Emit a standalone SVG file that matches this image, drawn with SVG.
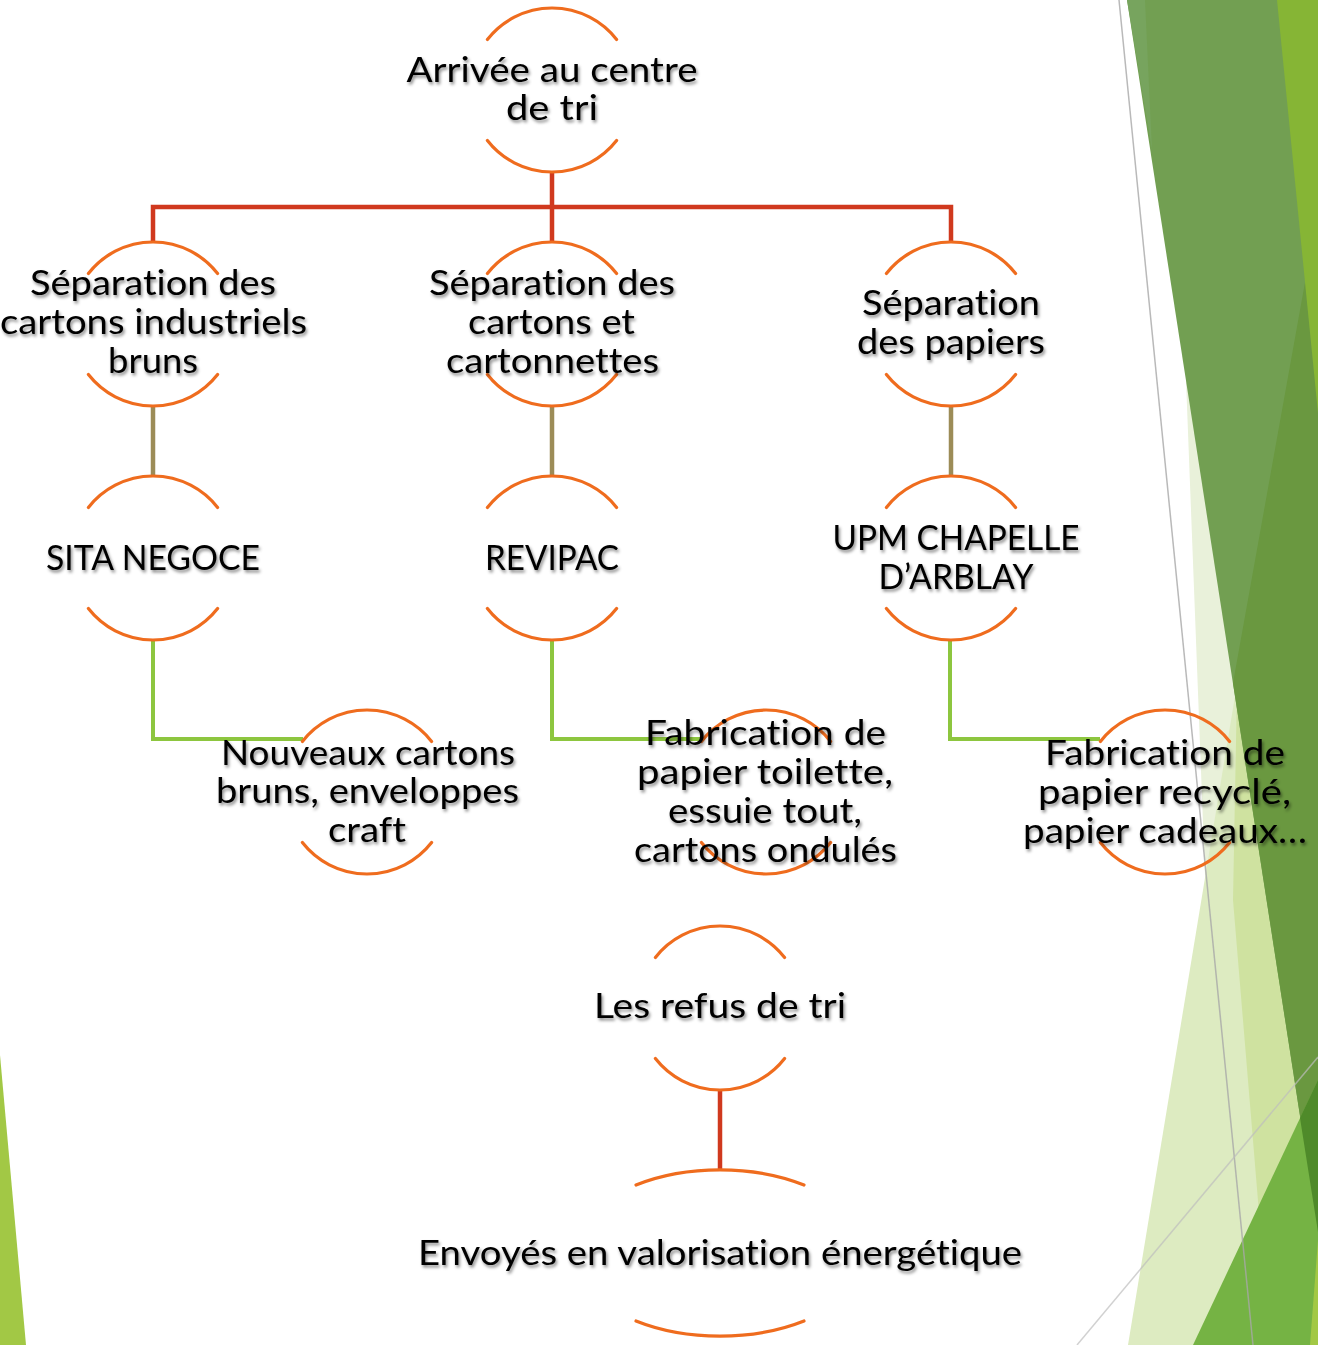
<svg xmlns="http://www.w3.org/2000/svg" xmlns:xlink="http://www.w3.org/1999/xlink" width="1318" height="1345" viewBox="0 0 1318 1345">
<style>
.t{font-family:"Lato","Liberation Sans",sans-serif;font-size:35px;fill:#000;text-anchor:middle;filter:url(#sh);font-variant-ligatures:none;font-feature-settings:"liga" 0,"clig" 0,"dlig" 0}
.arc{fill:none;stroke:#EF6C1E;stroke-width:3.2;stroke-linecap:round}
.red{fill:none;stroke:#D0391E;stroke-width:4.5}
.olive{fill:none;stroke:#9C8C57;stroke-width:4.5}
.green{fill:none;stroke:#8DC63F;stroke-width:4}
</style>
<defs>
<filter id="sh" x="-10%" y="-30%" width="120%" height="170%">
<feDropShadow dx="1.5" dy="2.5" stdDeviation="1.8" flood-color="#000" flood-opacity="0.45"/>
</filter>
<path id="ring" class="arc" d="M-64.6,-50.5 A82,82 0 0 1 64.6,-50.5 M-64.6,50.5 A82,82 0 0 0 64.6,50.5"/>
<path id="oval" class="arc" d="M-84,-68 A146,83 0 0 1 84,-68 M-84,68 A146,83 0 0 0 84,68"/>
</defs>
<rect width="1318" height="1345" fill="#fff"/>
<g id="background">
<polygon points="0,1055 26,1345 0,1345" fill="#A2C845"/>
<polygon points="1186,380 1205,875 1318,875 1318,380" fill="#E9F1DA"/>
<polygon points="1128,1345 1236,690 1318,690 1318,1345" fill="#DDEBC1"/>
<polygon points="1237,690 1233,900 1270,1345 1318,1345 1318,690" fill="#CFE2A0"/>
<polygon points="1127,0 1318,0 1318,1232" fill="#729F52"/>
<polygon points="1127,0 1145,0 1152,150" fill="#77A45E"/>
<polygon points="1318,210 1233,683 1318,1232" fill="#6A9840"/>
<polygon points="1277,0 1318,0 1318,413" fill="#86B535"/>
<polygon points="1318,1080 1193,1345 1318,1345" fill="#75B344"/>
<polygon points="1318,1080 1300,1118 1318,1232" fill="#4F8A2A"/>
<polygon points="1318,1240 1310,1345 1318,1345" fill="#A2C845"/>
<line x1="1119" y1="0" x2="1253" y2="1345" stroke="#A8A8A8" stroke-opacity="0.8" stroke-width="1.5"/>
<line x1="1077" y1="1345" x2="1318" y2="1057" stroke="#BDBDBD" stroke-opacity="0.7" stroke-width="1.5"/>
</g>
<g id="connectors">
<path class="red" d="M153,242 V207 H951 V242 M552,172 V242"/>
<path class="olive" d="M153,406 V476 M552,406 V476 M951,406 V476"/>
<path class="green" d="M153,640 V739 H303 M552,640 V739 H701 M950,640 V739 H1100"/>
<path class="red" d="M720,1090 V1170"/>
</g>
<g id="n-arrivee">
<use href="#ring" x="552" y="90"/>
<text class="t" x="552" y="82" textLength="291" lengthAdjust="spacingAndGlyphs">Arrivée au centre</text>
<text class="t" x="552" y="120" textLength="92" lengthAdjust="spacingAndGlyphs">de tri</text>
</g>
<g id="n-sep-bruns">
<use href="#ring" x="153" y="324"/>
<text class="t" x="153" y="295" textLength="246" lengthAdjust="spacingAndGlyphs">Séparation des</text>
<text class="t" x="153.5" y="334" textLength="307" lengthAdjust="spacingAndGlyphs">cartons industriels</text>
<text class="t" x="153" y="373" textLength="90" lengthAdjust="spacingAndGlyphs">bruns</text>
</g>
<g id="n-sep-cartons">
<use href="#ring" x="552" y="324"/>
<text class="t" x="552" y="295" textLength="246" lengthAdjust="spacingAndGlyphs">Séparation des</text>
<text class="t" x="551.5" y="334" textLength="167" lengthAdjust="spacingAndGlyphs">cartons et</text>
<text class="t" x="552.5" y="373" textLength="213" lengthAdjust="spacingAndGlyphs">cartonnettes</text>
</g>
<g id="n-sep-papiers">
<use href="#ring" x="951" y="324"/>
<text class="t" x="951" y="315" textLength="178" lengthAdjust="spacingAndGlyphs">Séparation</text>
<text class="t" x="951" y="354" textLength="188" lengthAdjust="spacingAndGlyphs">des papiers</text>
</g>
<g id="n-sita">
<use href="#ring" x="153" y="558"/>
<text class="t" x="153" y="570" textLength="214" lengthAdjust="spacingAndGlyphs">SITA NEGOCE</text>
</g>
<g id="n-revipac">
<use href="#ring" x="552" y="558"/>
<text class="t" x="552" y="570" textLength="134" lengthAdjust="spacingAndGlyphs">REVIPAC</text>
</g>
<g id="n-upm">
<use href="#ring" x="951" y="558"/>
<text class="t" x="956" y="550" textLength="247" lengthAdjust="spacingAndGlyphs">UPM CHAPELLE</text>
<text class="t" x="956" y="589" textLength="155" lengthAdjust="spacingAndGlyphs">D’ARBLAY</text>
</g>
<g id="n-nouveaux">
<use href="#ring" x="367" y="792"/>
<text class="t" x="368" y="765" textLength="294" lengthAdjust="spacingAndGlyphs">Nouveaux cartons</text>
<text class="t" x="367.5" y="803" textLength="303" lengthAdjust="spacingAndGlyphs">bruns, enveloppes</text>
<text class="t" x="367" y="842" textLength="78" lengthAdjust="spacingAndGlyphs">craft</text>
</g>
<g id="n-toilette">
<use href="#ring" x="766" y="792"/>
<text class="t" x="765.5" y="745" textLength="241" lengthAdjust="spacingAndGlyphs">Fabrication de</text>
<text class="t" x="765" y="784" textLength="256" lengthAdjust="spacingAndGlyphs">papier toilette,</text>
<text class="t" x="765" y="823" textLength="194" lengthAdjust="spacingAndGlyphs">essuie tout,</text>
<text class="t" x="765.5" y="862" textLength="263" lengthAdjust="spacingAndGlyphs">cartons ondulés</text>
</g>
<g id="n-recycle">
<use href="#ring" x="1165" y="792"/>
<text class="t" x="1165" y="765" textLength="240" lengthAdjust="spacingAndGlyphs">Fabrication de</text>
<text class="t" x="1164.5" y="804" textLength="253" lengthAdjust="spacingAndGlyphs">papier recyclé,</text>
<text class="t" x="1165" y="843" textLength="284" lengthAdjust="spacingAndGlyphs">papier cadeaux…</text>
</g>
<g id="n-refus">
<use href="#ring" x="720" y="1008"/>
<text class="t" x="720" y="1018" textLength="252" lengthAdjust="spacingAndGlyphs">Les refus de tri</text>
</g>
<g id="n-envoyes">
<use href="#oval" x="720" y="1253"/>
<text class="t" x="720" y="1265" textLength="604" lengthAdjust="spacingAndGlyphs">Envoyés en valorisation énergétique</text>
</g>
</svg>
